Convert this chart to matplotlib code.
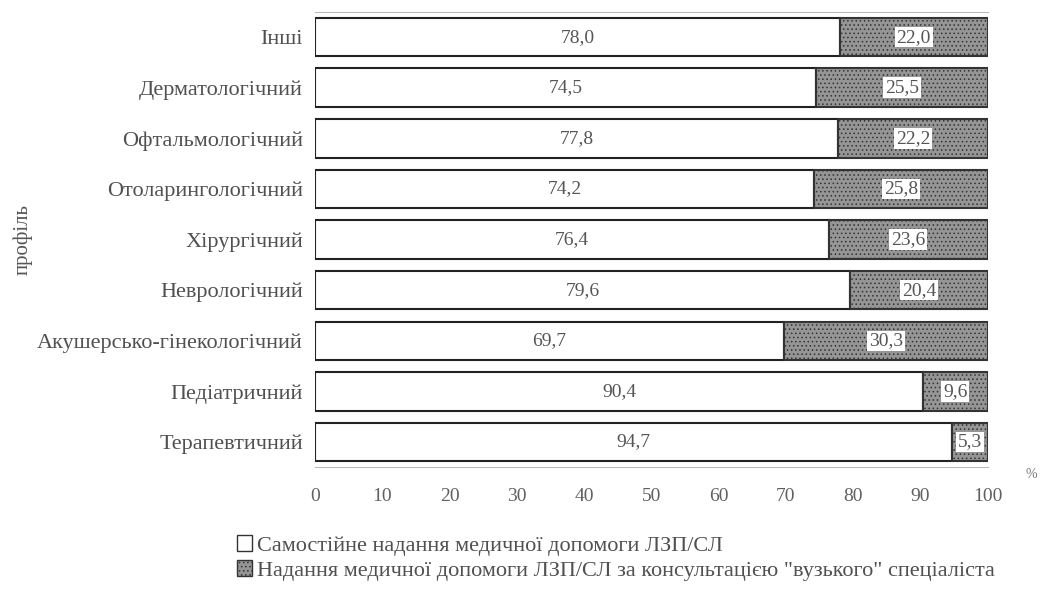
import matplotlib.pyplot as plt
from matplotlib.patches import Patch

plt.rcParams['font.family'] = ['Liberation Serif', 'DejaVu Serif']
plt.rcParams['hatch.color'] = '#5a5a5a'
plt.rcParams['hatch.linewidth'] = 0.6

# data (bottom -> top)
profiles = ['Терапевтичний', 'Педіатричний', 'Акушерсько-гінекологічний',
            'Неврологічний', 'Хірургічний', 'Отоларингологічний',
            'Офтальмологічний', 'Дерматологічний', 'Інші']
self_care = [94.7, 90.4, 69.7, 79.6, 76.4, 74.2, 77.8, 74.5, 78.0]
consult = [5.3, 9.6, 30.3, 20.4, 23.6, 25.8, 22.2, 25.5, 22.0]
xticks = [0, 10, 20, 30, 40, 50, 60, 70, 80, 90, 100]

fig = plt.figure(figsize=(10.44, 5.9), dpi=100)
ax = fig.add_axes([0.302, 0.208, 0.644, 0.772])

ypos = list(range(len(profiles)))
ax.barh(ypos, self_care, height=0.76, color='white', edgecolor='#222222', linewidth=1.5)
ax.barh(ypos, consult, left=self_care, height=0.76, color='#959595',
        edgecolor='#333333', linewidth=1.5, hatch='....')

for y, a, b in zip(ypos, self_care, consult):
    ax.text(a / 2, y, f'{a:.1f}'.replace('.', ','), ha='center', va='center',
            fontsize=14, color='#555555')
    ax.text(a + b / 2, y, f'{b:.1f}'.replace('.', ','), ha='center', va='center',
            fontsize=14, color='#555555',
            bbox=dict(facecolor='white', edgecolor='none', pad=1.2))

ax.set_xlim(0, 100)
ax.set_ylim(-0.5, len(profiles) - 0.5)
ax.set_xticks(xticks)
ax.set_yticks(ypos)
ax.set_yticklabels(profiles, fontsize=16, color='#505050')
ax.tick_params(axis='x', length=0, pad=15, labelsize=14, labelcolor='#606060')
ax.tick_params(axis='y', length=0, pad=9)
for s in ['left', 'right']:
    ax.spines[s].set_visible(False)
for s in ['top', 'bottom']:
    ax.spines[s].set_color('#bbbbbb')
    ax.spines[s].set_linewidth(0.8)

ax.set_ylabel('профіль', fontsize=15, color='#555555')
ax.yaxis.set_label_coords(-0.42, 0.5)
fig.text(0.982, 0.19, '%', fontsize=10, color='#777777')

handles = [Patch(facecolor='white', edgecolor='#333333'),
           Patch(facecolor='#959595', edgecolor='#333333', hatch='....')]
labels = ['Самостійне надання медичної допомоги ЛЗП/СЛ',
          'Надання медичної допомоги ЛЗП/СЛ за консультацією "вузького" спеціаліста']
fig.legend(handles, labels, loc='upper left', bbox_to_anchor=(0.216, 0.112),
           frameon=False, fontsize=16, handlelength=0.7, handleheight=0.7,
           handletextpad=0.2, labelspacing=0.2, borderpad=0, labelcolor='#505050')

fig.savefig('out.png', dpi=100)
